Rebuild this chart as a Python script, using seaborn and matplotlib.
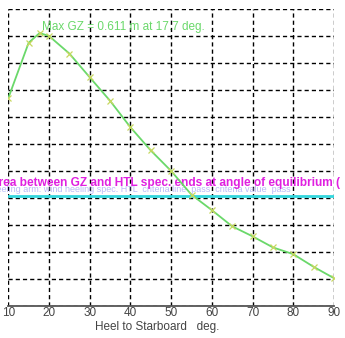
import matplotlib
matplotlib.use("Agg")
import matplotlib.pyplot as plt
import seaborn as sns
import pandas as pd

# GZ curve: heel angle (deg) and righting lever GZ (m)
heel = [10, 15, 17.7, 20, 25, 30, 35, 40, 45, 50, 55, 60, 65, 70, 75, 80, 85, 90]
gz = [0.37, 0.575, 0.611, 0.600, 0.535, 0.447, 0.360, 0.262, 0.176, 0.100,
      0.012, -0.045, -0.105, -0.142, -0.183, -0.208, -0.255, -0.297]

x_ticks = [10, 20, 30, 40, 50, 60, 70, 80, 90]
htl_level = 0.007

max_label = "Max GZ = 0.611 m at 17.7 deg."
area_label = "Area between GZ and HTL spec. ends at angle of equilibrium ("
htl_label = "Heeling arm: wind heeling spec. HTL  criteria line  pass  criteria value  pass"
x_label = "Heel to Starboard   deg."

sns.set_style("white")
plt.rcParams["font.family"] = ["Liberation Sans", "DejaVu Sans"]

df = pd.DataFrame({"heel": heel, "gz": gz})

fig = plt.figure(figsize=(3.45, 3.38), dpi=100)
ax = fig.add_axes([8.3 / 345, 1 - 306 / 338, (334 - 8.3) / 345, (306 - 9) / 338])

ax.set_xlim(10, 90)
ax.set_ylim(-0.4, 0.7)
ax.set_xticks(x_ticks)
ax.set_yticks([round(-0.4 + 0.1 * i, 1) for i in range(12)])
ax.set_yticklabels([])

ax.grid(True, color="black", linestyle=(0, (3, 2.2)), linewidth=1.0)
for side in ("left", "right", "top"):
    ax.spines[side].set_visible(False)
ax.spines["bottom"].set_color("#555555")
ax.spines["bottom"].set_linewidth(1.3)
ax.spines["bottom"].set_zorder(5)

ax.tick_params(axis="x", direction="inout", length=8, width=1.0, color="#555555",
               labelsize=8.5, labelcolor="#444444", pad=-3)
ax.tick_params(axis="y", length=0)

# heeling arm line with its labels
ax.axhline(htl_level, color="#33d6dd", linewidth=2.0, zorder=3)
ax.text(5.6, htl_level + 0.025, htl_label, color="#8c8cf0", fontsize=6.5,
        va="center", ha="left", alpha=0.6, clip_on=False, zorder=3)
ax.text(5.4, 0.056, area_label, color="#e020e0", fontsize=8.6, fontweight="bold",
        va="center", ha="left", clip_on=False, zorder=4)

# GZ curve
sns.lineplot(data=df, x="heel", y="gz", ax=ax, color="#6ad86a", linewidth=1.3,
             marker="x", markersize=4, markeredgecolor="#c8d860",
             markeredgewidth=0.9, zorder=6)

ax.text(18.3, 0.633, max_label, color="#6ad86a", fontsize=8.5, va="center",
        ha="left", zorder=6)

ax.set_ylabel("")
ax.set_xlabel(x_label, fontsize=8.5, color="#444444")
ax.xaxis.set_label_coords(0.457, -0.052)

fig.savefig("out.png", dpi=100)
